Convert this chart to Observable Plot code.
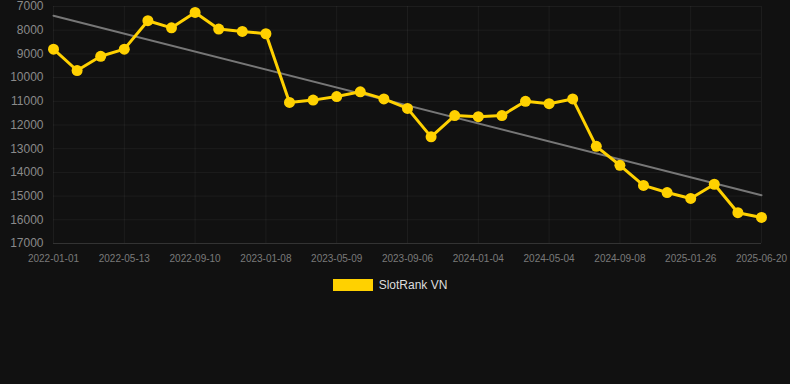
<!DOCTYPE html>
<html><head><meta charset="utf-8">
<script src="https://cdn.jsdelivr.net/npm/d3@7"></script>
<script src="https://cdn.jsdelivr.net/npm/@observablehq/plot@0.6"></script>
<style>
html,body{margin:0;padding:0;background:#111111;width:790px;height:384px;overflow:hidden;font-family:"Liberation Sans",Arial,sans-serif;}
#chart svg{display:block;}
#legend{display:flex;justify-content:center;align-items:center;gap:6px;color:#dddddd;font-size:12px;margin-top:9px;height:12px;padding-right:10px;}
#legend .sw{display:inline-block;width:40px;height:12px;background:#FFD100;}
</style></head><body>
<div id="chart"></div>
<div id="legend"><span class="sw"></span><span>SlotRank VN</span></div>
<script>
const dates = ["2022-01-01","2022-02-14","2022-03-30","2022-05-13","2022-06-22","2022-08-01","2022-09-10","2022-10-20","2022-11-29","2023-01-08","2023-02-17","2023-03-29","2023-05-09","2023-06-18","2023-07-28","2023-09-06","2023-10-16","2023-11-25","2024-01-04","2024-02-13","2024-03-24","2024-05-04","2024-06-15","2024-07-27","2024-09-08","2024-10-24","2024-12-10","2025-01-26","2025-03-14","2025-05-02","2025-06-20"];
const ranks = [8800,9700,9100,8800,7600,7900,7250,7950,8050,8150,11050,10950,10800,10600,10900,11300,12500,11600,11650,11600,11000,11100,10900,12900,13700,14550,14850,15100,14500,15700,15900];
const xTickIdx = [0,3,6,9,12,15,18,21,24,27,30];
const yTicks = [7000,8000,9000,10000,11000,12000,13000,14000,15000,16000,17000];
const seriesName = "SlotRank VN";

const data = ranks.map((r,i)=>({i, date: dates[i], rank: r}));

const chart = Plot.plot({
  width: 790, height: 270,
  marginLeft: 53, marginRight: 29, marginTop: 6, marginBottom: 27,
  style: {background: "#111111", color: "#8a8a8a", fontFamily: "Liberation Sans, Arial, sans-serif"},
  x: {type: "linear", domain: [0, 30], label: null},
  y: {domain: [7000, 17000], reverse: true, label: null},
  marks: [
    Plot.gridX(xTickIdx, {stroke: "#ffffff", strokeOpacity: 0.05}),
    Plot.gridY(yTicks, {stroke: "#ffffff", strokeOpacity: 0.05}),
    Plot.ruleY([17000], {stroke: "#333333"}),
    Plot.axisY({ticks: yTicks, tickSize: 0, tickPadding: 10, fontSize: 12, tickFormat: d => String(d), fill: "#8a8a8a", label: null}),
    Plot.axisX({ticks: xTickIdx, tickSize: 0, tickPadding: 11, fontSize: 10, tickFormat: i => dates[i], fill: "#7a7a7a", label: null}),
    Plot.linearRegressionY(data, {x: "i", y: "rank", stroke: "#777777", strokeWidth: 2, ci: 0}),
    Plot.line(data, {x: "i", y: "rank", stroke: "#FFD100", strokeWidth: 3}),
    Plot.dot(data, {x: "i", y: "rank", fill: "#FFD100", r: 5.5})
  ]
});
document.getElementById("chart").appendChild(chart);
</script>
</body></html>
